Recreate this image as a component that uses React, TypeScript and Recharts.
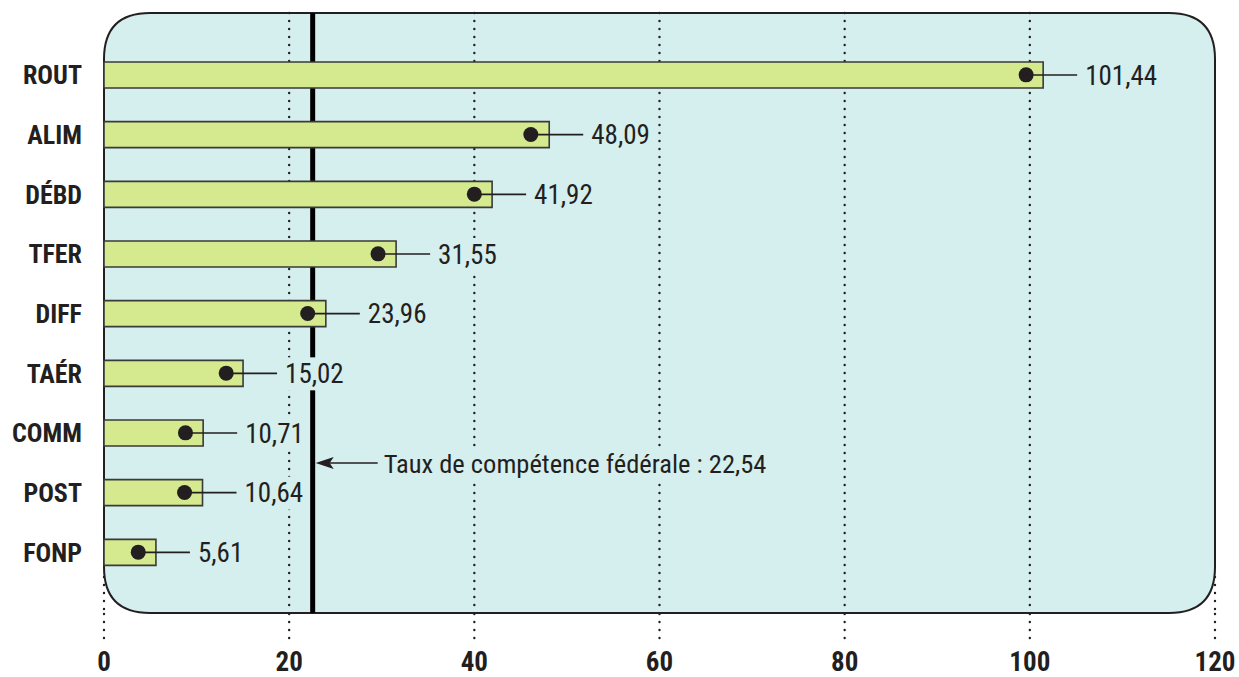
import React from 'react';
import {
    ComposedChart,
    Bar,
    Scatter,
    XAxis,
    YAxis,
    CartesianGrid,
    ReferenceArea,
    ReferenceLine,
    LabelList,
} from 'recharts';

// Secteurs, du plus haut au plus bas
const sectors = ['ROUT', 'ALIM', 'DÉBD', 'TFER', 'DIFF', 'TAÉR', 'COMM', 'POST', 'FONP'];
// Valeur de la barre (étiquette)
const rates = [101.44, 48.09, 41.92, 31.55, 23.96, 15.02, 10.71, 10.64, 5.61];
// Position du point noir dans chaque barre
const markers = [99.6, 46.1, 40.0, 29.6, 22.0, 13.2, 8.8, 8.7, 3.7];
const xTicks = [0, 20, 40, 60, 80, 100, 120];
const federalRate = 22.54;
const federalLabel = 'Taux de compétence fédérale : 22,54';

const data = sectors.map((name, i) => ({name, rate: rates[i], marker: markers[i]}));

const FONT = "'Liberation Sans Narrow', 'Roboto Condensed', 'DejaVu Sans Condensed', sans-serif";
const INK = '#231f20';
const BOX_FILL = '#d5eeee';
const BAR_FILL = '#d5e98f';
const PAD_TOP = 32;
const PAD_BOTTOM = 31;

const fmt = (v: number) => v.toFixed(2).replace('.', ',');

// fond arrondi derrière la zone de tracé (la zone de référence couvre l'axe sans son padding)
const RoundedBox = (props: any) => {
    const {x, width} = props;
    const y = props.y - PAD_TOP;
    const height = props.height + PAD_TOP + PAD_BOTTOM;
    const r = 46;
    const d = `M${x + r},${y} H${x + width - r} Q${x + width},${y} ${x + width},${y + r}
        V${y + height - r} Q${x + width},${y + height} ${x + width - r},${y + height}
        H${x + r} Q${x},${y + height} ${x},${y + height - r}
        V${y + r} Q${x},${y} ${x + r},${y} Z`;
    return <path d={d} fill={BOX_FILL} stroke={INK} strokeWidth={2}/>;
};

// lignes pointillées : complètes à l'intérieur, seulement le coin pour 0 et 120
const GridLine = (props: any) => {
    const {x1, y1, x2, y2, index} = props;
    const last = xTicks.length - 1;
    const top = index === 0 || index === last ? y2 - 36 : y1;
    return (
        <line
            x1={x1}
            x2={x2}
            y1={top}
            y2={y2}
            stroke={INK}
            strokeWidth={2.4}
            strokeDasharray="0 8"
            strokeLinecap="round"
        />
    );
};

const CategoryTick = (props: any) => {
    const {x, y, payload} = props;
    return (
        <text x={x} y={y} dy="0.36em" textAnchor="end" fill={INK}
              style={{fontFamily: FONT, fontSize: 26, fontWeight: 700}}>
            {payload.value}
        </text>
    );
};

const ValueTick = (props: any) => {
    const {x, y, payload} = props;
    return (
        <text x={x} y={y} dy="0.72em" textAnchor="middle" fill={INK}
              style={{fontFamily: FONT, fontSize: 27, fontWeight: 700}}>
            {payload.value}
        </text>
    );
};

const LeaderLabel = (props: any) => {
    const {x, y, width, height, value, index} = props;
    const cy = y + height / 2;
    const end = x + width;
    const dotX = x + (width * markers[index]) / value;
    const txt = fmt(value);
    const textW = (txt.length - 1) * 11.8 + 6;
    return (
        <g>
            <line x1={dotX} x2={end + 34} y1={cy} y2={cy} stroke={INK} strokeWidth={1.6}/>
            <rect x={end + 40} y={cy - 16} width={textW + 4} height={33} fill={BOX_FILL}/>
            <text x={end + 42} y={cy} dy="0.36em" fill={INK}
                  style={{fontFamily: FONT, fontSize: 27}}>
                {txt}
            </text>
        </g>
    );
};

const FederalLabel = (props: any) => {
    const {viewBox} = props;
    const x = viewBox.x + 3;
    const y = viewBox.y + viewBox.height * 0.75;
    return (
        <g>
            <line x1={x + 14} x2={x + 62} y1={y} y2={y} stroke={INK} strokeWidth={1.6}/>
            <path d={`M${x},${y} L${x + 18},${y - 6} L${x + 14},${y} L${x + 18},${y + 6} Z`} fill={INK}/>
            <rect x={x + 66} y={y - 16} width={386} height={33} fill={BOX_FILL}/>
            <text x={x + 68} y={y} dy="0.36em" fill={INK}
                  style={{fontFamily: FONT, fontSize: 26.5}}>
                {federalLabel}
            </text>
        </g>
    );
};

const App = () => {
    return (
        <div style={{position: 'absolute', left: 0, top: 0, background: '#fff'}}>
            <ComposedChart
                width={1239}
                height={677}
                data={data}
                layout="vertical"
                margin={{top: 13, right: 24, bottom: 0, left: 0}}
            >
                <ReferenceArea x1={0} x2={120} ifOverflow="visible" shape={RoundedBox} zIndex={-200}/>
                <CartesianGrid horizontal={false} vertical={GridLine} zIndex={-100}/>
                <ReferenceLine
                    x={federalRate}
                    stroke="#000"
                    strokeWidth={5}
                    zIndex={-50}
                    label={FederalLabel}
                />
                <XAxis
                    type="number"
                    domain={[0, 120]}
                    ticks={xTicks}
                    axisLine={false}
                    tickSize={25}
                    tickMargin={14}
                    tickLine={{stroke: INK, strokeWidth: 2.4, strokeDasharray: '0 8', strokeLinecap: 'round'}}
                    tick={ValueTick}
                    height={64}
                    interval={0}
                />
                <YAxis
                    type="category"
                    dataKey="name"
                    width={104}
                    axisLine={false}
                    tickLine={false}
                    tickSize={0}
                    tickMargin={22}
                    tick={CategoryTick}
                    padding={{top: PAD_TOP, bottom: PAD_BOTTOM}}
                    interval={0}
                />
                <Bar
                    dataKey="rate"
                    barSize={26}
                    fill={BAR_FILL}
                    stroke="#3a3a3a"
                    strokeWidth={1.6}
                    isAnimationActive={false}
                >
                    <LabelList dataKey="rate" content={LeaderLabel}/>
                </Bar>
                <Scatter
                    dataKey="marker"
                    fill={INK}
                    shape={(p: any) => <circle cx={p.cx} cy={p.cy} r={7.5} fill={INK}/>}
                    isAnimationActive={false}
                />
            </ComposedChart>
        </div>
    );
};

export default App;
